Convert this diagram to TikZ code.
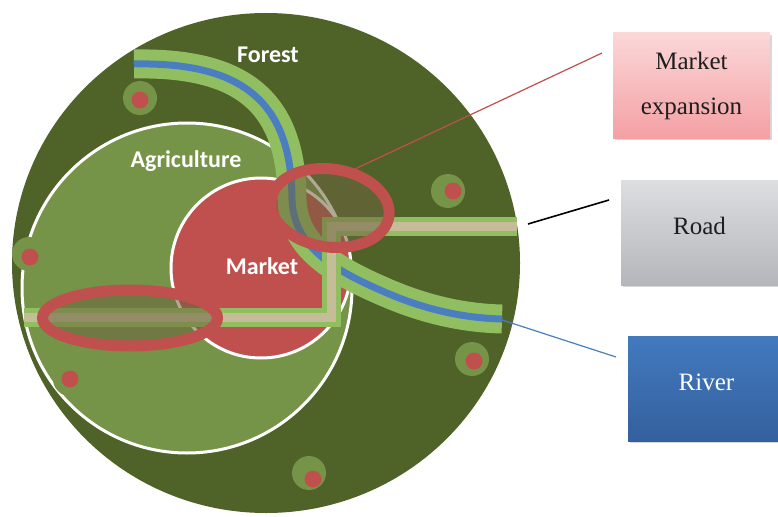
\documentclass[tikz,border=0pt]{standalone}
\usepackage{fontspec}
\setmainfont{Liberation Serif}
\newfontfamily\labfont{Carlito}
\usetikzlibrary{shapes.geometric,shadows}

\definecolor{forest}{RGB}{79,98,40}
\definecolor{agri}{RGB}{118,148,72}
\definecolor{stripe}{RGB}{146,190,98}
\definecolor{water}{RGB}{74,126,193}
\definecolor{mkt}{RGB}{192,80,77}
\definecolor{roadtan}{RGB}{196,189,151}
\definecolor{haze}{RGB}{110,100,62}
\definecolor{ink}{RGB}{30,30,30}

\begin{document}
\begin{tikzpicture}[x=1pt,y=-1pt,
  area/.style={draw=white,line width=3pt},
  lab/.style={text=white,font=\labfont\bfseries\fontsize{24}{28}\selectfont},
  ring/.style={ellipse,draw=mkt,line width=11pt,fill=haze,fill opacity=0.55,inner sep=0pt},
  tag/.style={minimum width=157pt,minimum height=105pt,inner sep=0pt,
    drop shadow={shadow xshift=2pt,shadow yshift=-2pt,opacity=0.3},
    font=\fontsize{25}{45}\selectfont,align=center},
  lead/.style={line width=1.2pt}]
  \useasboundingbox[fill=white] (0,0) rectangle (778,516);

  % map
  \fill[forest] (266,263) ellipse [x radius=254pt,y radius=250pt];
  \draw[area,fill=agri] (187,288) circle (165pt);
  \foreach \sx/\sy/\rx/\ry in {140/98/140/100,448/191/453/191,29/254/30/257,
      472/359/474/361,309/473/313/479,70/379/70/379}{
    \fill[agri] (\sx,\sy) circle (17pt);
    \fill[mkt] (\rx,\ry) circle (8.5pt);
  }
  \draw[area,fill=mkt] (261,268) circle (90pt);
  \draw[stripe,line width=11pt,double=water,double distance=7pt]
    (134,64) .. controls (240,62) and (292,100) .. (292,200)
    .. controls (294,245) and (330,268) .. (380,290)
    .. controls (420,308) and (460,318) .. (502,319);
  \draw[stripe,line width=5pt,double=roadtan,double distance=9pt]
    (24,317) -- (331,317) -- (331,226) -- (517,226);
  \node[ring,minimum width=119pt,minimum height=78pt,rotate=-8](upring) at (330,208){};
  \node[ring,minimum width=175pt,minimum height=56pt](lowring) at (130,318){};

  \node[lab](forestlab) at (268,55){Forest};
  \node[lab](agrilab) at (186,161){Agriculture};
  \node[lab](mktlab) at (262,266){Market};

  % legend
  \node[tag,top color={rgb,255:red,251;green,215;blue,217},
    bottom color={rgb,255:red,244;green,160;blue,164},text=ink](mexp) at (691.5,85.5){Market\\expansion};
  \node[tag,top color={rgb,255:red,221;green,222;blue,224},
    bottom color={rgb,255:red,180;green,182;blue,187},text=ink,
    text height=17pt,text depth=14pt](road) at (699.5,232.5){Road};
  \node[tag,top color={rgb,255:red,66;green,122;blue,190},
    bottom color={rgb,255:red,52;green,96;blue,158},text=white,
    text height=17pt,text depth=14pt](river) at (706.5,388.5){River};

  \coordinate (mexptip) at (602,53);
  \coordinate (roadfrom) at (528,224);
  \coordinate (roadtip) at (609,200);
  \coordinate (rivermouth) at (499,319);
  \coordinate (rivertip) at (616,357);
  \path[lead]
  (upring.65) edge[draw=mkt] (mexptip)
  (roadfrom) edge[draw=black,line width=1.6pt] (roadtip)
  (rivermouth) edge[draw=water] (rivertip);
\end{tikzpicture}
\end{document}
